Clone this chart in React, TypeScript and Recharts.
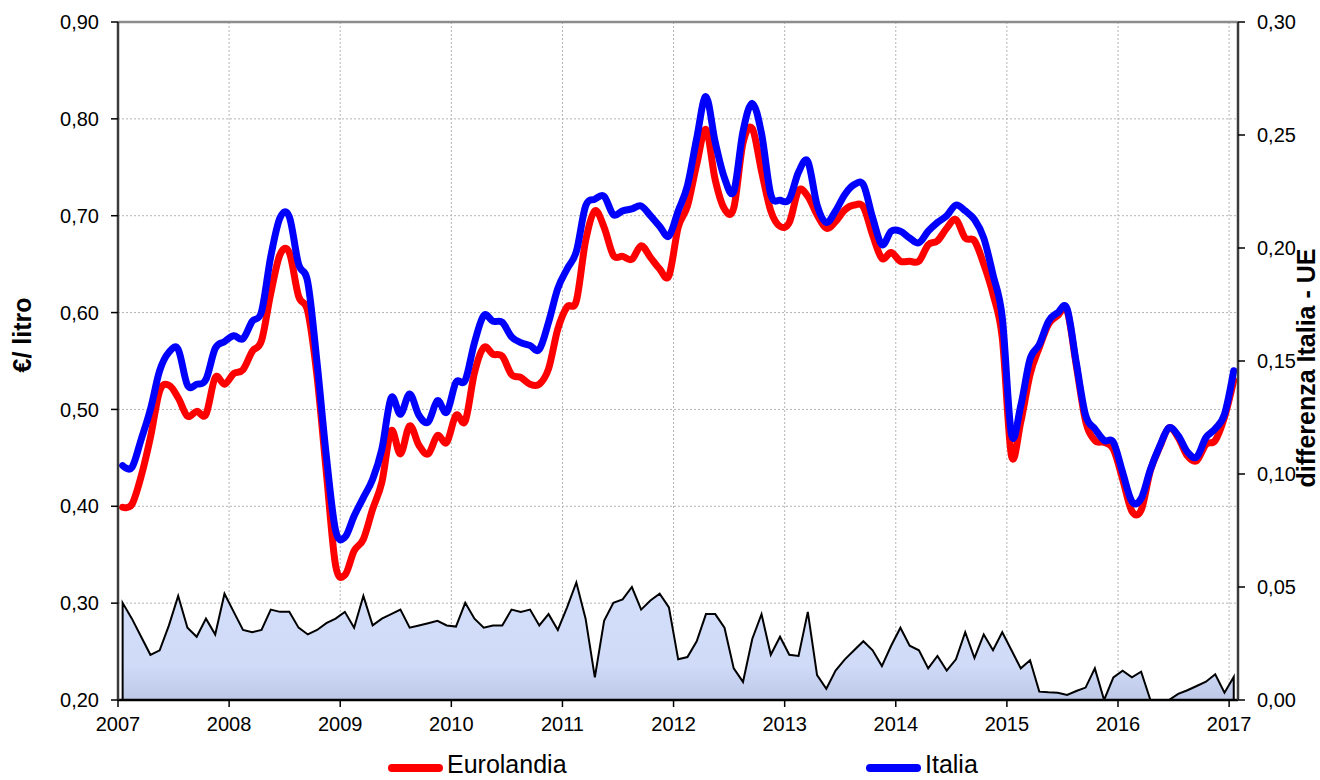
import React from "react";
import {
  ComposedChart,
  Line,
  Area,
  XAxis,
  YAxis,
  CartesianGrid,
  ReferenceLine,
} from "recharts";

// monthly values, Jan 2007 .. Jan 2017 (€/litro)
const italia = [
  0.442, 0.44, 0.469, 0.5, 0.54, 0.559, 0.562, 0.525, 0.526, 0.531, 0.563, 0.57,
  0.576, 0.573, 0.591, 0.601, 0.658, 0.698, 0.699, 0.65, 0.631, 0.548, 0.452, 0.375,
  0.368, 0.39, 0.409, 0.428, 0.459, 0.512, 0.495, 0.516, 0.494, 0.487, 0.509, 0.497,
  0.528, 0.53, 0.569, 0.597, 0.591, 0.59, 0.575, 0.569, 0.566, 0.562, 0.59, 0.625,
  0.645, 0.663, 0.71, 0.717, 0.72, 0.701, 0.705, 0.707, 0.71, 0.7, 0.689, 0.679,
  0.705, 0.731, 0.78, 0.823, 0.776, 0.739, 0.725, 0.787, 0.816, 0.785, 0.722, 0.716,
  0.717, 0.745, 0.756, 0.711, 0.693, 0.705, 0.722, 0.732, 0.732, 0.698, 0.67, 0.684,
  0.684, 0.677, 0.672, 0.684, 0.693, 0.7, 0.711, 0.705, 0.696, 0.677, 0.639, 0.595,
  0.474, 0.504, 0.552, 0.567, 0.591, 0.6, 0.604, 0.548, 0.494, 0.48, 0.468, 0.466,
  0.435, 0.405, 0.408, 0.438, 0.462, 0.481, 0.473, 0.456, 0.451, 0.471, 0.48, 0.495,
  0.54,
];

const eurolandia = [
  0.399, 0.402, 0.431, 0.471, 0.519, 0.525, 0.512, 0.493, 0.498, 0.495, 0.533, 0.526,
  0.537, 0.541, 0.56, 0.571, 0.62, 0.66, 0.662, 0.617, 0.601, 0.534, 0.435, 0.339,
  0.329, 0.354, 0.366, 0.397, 0.425, 0.478, 0.454, 0.483, 0.463, 0.454, 0.473, 0.466,
  0.494, 0.488, 0.538, 0.564, 0.557, 0.555, 0.536, 0.533, 0.526, 0.526, 0.542, 0.583,
  0.606, 0.612, 0.674, 0.705, 0.688, 0.659, 0.658, 0.655, 0.669, 0.657, 0.645, 0.638,
  0.688, 0.71, 0.753, 0.789, 0.737, 0.707, 0.708, 0.775, 0.79, 0.746, 0.705, 0.689,
  0.693, 0.726, 0.72, 0.701, 0.687, 0.694, 0.706, 0.711, 0.709, 0.68, 0.656, 0.662,
  0.653, 0.653, 0.653, 0.67, 0.674, 0.687, 0.696, 0.677, 0.674, 0.65, 0.619, 0.574,
  0.452, 0.487, 0.536, 0.564, 0.588, 0.597, 0.602, 0.545, 0.488, 0.468, 0.466, 0.459,
  0.428, 0.395, 0.396, 0.437, 0.461, 0.481, 0.471, 0.452, 0.447, 0.464, 0.468, 0.492,
  0.53,
];

// differenza Italia - UE (right axis)
const differenza = [
  0.043, 0.036, 0.028, 0.02, 0.022, 0.033, 0.046, 0.032, 0.028, 0.036, 0.029, 0.047,
  0.039, 0.031, 0.03, 0.031, 0.04, 0.039, 0.039, 0.032, 0.029, 0.031, 0.034, 0.036,
  0.039, 0.032, 0.046, 0.033, 0.036, 0.038, 0.04, 0.032, 0.033, 0.034, 0.035, 0.033,
  0.0325, 0.043, 0.036, 0.032, 0.033, 0.033, 0.04, 0.039, 0.04, 0.033, 0.038, 0.031,
  0.041, 0.052, 0.036, 0.01, 0.035, 0.043, 0.0445, 0.05, 0.04, 0.044, 0.047, 0.041,
  0.018, 0.019, 0.026, 0.038, 0.038, 0.032, 0.014, 0.008, 0.027, 0.038, 0.02, 0.028,
  0.02, 0.0195, 0.039, 0.011, 0.005, 0.013, 0.018, 0.022, 0.026, 0.022, 0.015, 0.024,
  0.032, 0.024, 0.022, 0.014, 0.0195, 0.013, 0.018, 0.03, 0.0186, 0.029, 0.022, 0.03,
  0.022, 0.014, 0.0176, 0.0037, 0.0034, 0.0032, 0.0022, 0.004, 0.0055, 0.014, 0, 0.01,
  0.013, 0.01, 0.0125, 0, 0, 0, 0.0027, 0.0043, 0.0062, 0.0081, 0.0114, 0.0032,
  0.0102,
];

const years = [2007, 2008, 2009, 2010, 2011, 2012, 2013, 2014, 2015, 2016, 2017];
const leftTicks = [0.2, 0.3, 0.4, 0.5, 0.6, 0.7, 0.8, 0.9];
const rightTicks = [0, 0.05, 0.1, 0.15, 0.2, 0.25, 0.3];

// each month sits in the middle of its slot on the time axis
const months = italia.map((_, i) => 2007 + (i + 0.5) / 12);

const rows = months.map((t, i) => ({
  t,
  italia: italia[i],
  eurolandia: eurolandia[i],
  diff: differenza[i],
}));
// zero points at both ends so the area outline closes down to the axis
const data = [
  { t: months[0], diff: 0 },
  ...rows,
  { t: months[months.length - 1], diff: 0 },
];

// Excel-like smoothed line (Catmull-Rom through every point)
class SmoothCurve {
  _context: any;
  _line: number = NaN;
  _point = 0;
  _x0 = NaN; _x1 = NaN; _x2 = NaN;
  _y0 = NaN; _y1 = NaN; _y2 = NaN;
  constructor(context: any) {
    this._context = context;
  }
  areaStart() { this._line = 0; }
  areaEnd() { this._line = NaN; }
  lineStart() {
    this._x0 = this._x1 = this._x2 = NaN;
    this._y0 = this._y1 = this._y2 = NaN;
    this._point = 0;
  }
  seg(x: number, y: number) {
    const k = 1 / 6;
    this._context.bezierCurveTo(
      this._x1 + k * (this._x2 - this._x0),
      this._y1 + k * (this._y2 - this._y0),
      this._x2 + k * (this._x1 - x),
      this._y2 + k * (this._y1 - y),
      this._x2,
      this._y2
    );
  }
  lineEnd() {
    if (this._point === 2) this._context.lineTo(this._x2, this._y2);
    else if (this._point === 3) this.seg(this._x1, this._y1);
    if (this._line || (this._line !== 0 && this._point === 1)) this._context.closePath();
    this._line = 1 - this._line;
  }
  point(x: number, y: number) {
    x = +x; y = +y;
    switch (this._point) {
      case 0:
        this._point = 1;
        this._line ? this._context.lineTo(x, y) : this._context.moveTo(x, y);
        break;
      case 1:
        this._point = 2;
        this._x1 = x; this._y1 = y;
        break;
      case 2:
        this._point = 3;
        this.seg(x, y);
        break;
      default:
        this.seg(x, y);
        break;
    }
    this._x0 = this._x1; this._x1 = this._x2; this._x2 = x;
    this._y0 = this._y1; this._y1 = this._y2; this._y2 = y;
  }
}
const smooth: any = (context: any) => new SmoothCurve(context);

const font = "'Liberation Sans', Arial, sans-serif";
const fmt = (v: number) => v.toFixed(2).replace(".", ",");
const tickStyle = { fill: "#000", fontSize: 20, fontFamily: font };

export default function App() {
  return (
    <div
      style={{
        position: "absolute",
        left: 0,
        top: 0,
        width: 1320,
        height: 780,
        overflow: "hidden",
        background: "#fff",
        fontFamily: font,
      }}
    >
      <ComposedChart
        width={1320}
        height={780}
        data={data}
        margin={{ top: 22, right: 0, bottom: 0, left: 0 }}
      >
        <defs>
          <linearGradient id="diffFill" x1="0" y1="0" x2="0" y2="1">
            <stop offset="0%" stopColor="#d3defb" />
            <stop offset="70%" stopColor="#d0dbf8" />
            <stop offset="100%" stopColor="#bcc8e6" />
          </linearGradient>
        </defs>
        <CartesianGrid
          yAxisId="left"
          stroke="#b4b4b4"
          strokeDasharray="2 2"
          strokeWidth={1}
        />
        <XAxis
          dataKey="t"
          type="number"
          domain={[2007, 2017.08]}
          ticks={years}
          allowDataOverflow
          height={80}
          tick={tickStyle}
          tickSize={7}
          tickMargin={10}
          axisLine={{ stroke: "#000", strokeWidth: 2.5 }}
          tickLine={{ stroke: "#000", strokeWidth: 1.5 }}
        />
        <YAxis
          yAxisId="left"
          orientation="left"
          domain={[0.2, 0.9]}
          ticks={leftTicks}
          tickFormatter={fmt}
          width={118}
          tick={tickStyle}
          tickSize={7}
          tickMargin={12}
          axisLine={{ stroke: "#3c3c3c", strokeWidth: 2.5 }}
          tickLine={{ stroke: "#000", strokeWidth: 1.5 }}
        />
        <YAxis
          yAxisId="right"
          orientation="right"
          domain={[0, 0.3]}
          ticks={rightTicks}
          tickFormatter={fmt}
          allowDataOverflow
          width={82}
          tick={{ ...tickStyle, textAnchor: "start" }}
          tickSize={7}
          tickMargin={12}
          axisLine={{ stroke: "#3c3c3c", strokeWidth: 2.5 }}
          tickLine={{ stroke: "#000", strokeWidth: 1.5 }}
        />
        <ReferenceLine
          yAxisId="left"
          y={0.9}
          stroke="#8c8c8c"
          strokeWidth={2.5}
        />
        <Area
          yAxisId="right"
          dataKey="diff"
          type="linear"
          stroke="#000"
          strokeWidth={2}
          fill="url(#diffFill)"
          fillOpacity={1}
          isAnimationActive={false}
          dot={false}
          activeDot={false}
        />
        <Line
          yAxisId="left"
          dataKey="eurolandia"
          type={smooth}
          stroke="#ff0000"
          strokeWidth={7}
          strokeLinecap="round"
          strokeLinejoin="round"
          dot={false}
          activeDot={false}
          isAnimationActive={false}
        />
        <Line
          yAxisId="left"
          dataKey="italia"
          type={smooth}
          stroke="#0000ff"
          strokeWidth={7}
          strokeLinecap="round"
          strokeLinejoin="round"
          dot={false}
          activeDot={false}
          isAnimationActive={false}
        />
      </ComposedChart>

      <div
        style={{
          position: "absolute",
          left: 22,
          top: 335,
          transform: "translate(-50%, -50%) rotate(-90deg)",
          whiteSpace: "nowrap",
          fontWeight: "bold",
          fontSize: 25,
          color: "#000",
        }}
      >
        €/ litro
      </div>
      <div
        style={{
          position: "absolute",
          left: 1306,
          top: 368,
          transform: "translate(-50%, -50%) rotate(-90deg)",
          whiteSpace: "nowrap",
          fontWeight: "bold",
          fontSize: 25,
          color: "#000",
        }}
      >
        differenza Italia - UE
      </div>

      {[
        { name: "Eurolandia", color: "#ff0000", x: 388 },
        { name: "Italia", color: "#0000ff", x: 866 },
      ].map((item) => (
        <div
          key={item.name}
          style={{ position: "absolute", left: item.x, top: 751, height: 28 }}
        >
          <div
            style={{
              position: "absolute",
              left: 0,
              top: 13,
              width: 55,
              height: 8,
              borderRadius: 4,
              background: item.color,
            }}
          />
          <div
            style={{
              position: "absolute",
              left: 59,
              top: 0,
              fontSize: 25,
              lineHeight: "26px",
              whiteSpace: "nowrap",
              color: "#000",
            }}
          >
            {item.name}
          </div>
        </div>
      ))}
    </div>
  );
}
